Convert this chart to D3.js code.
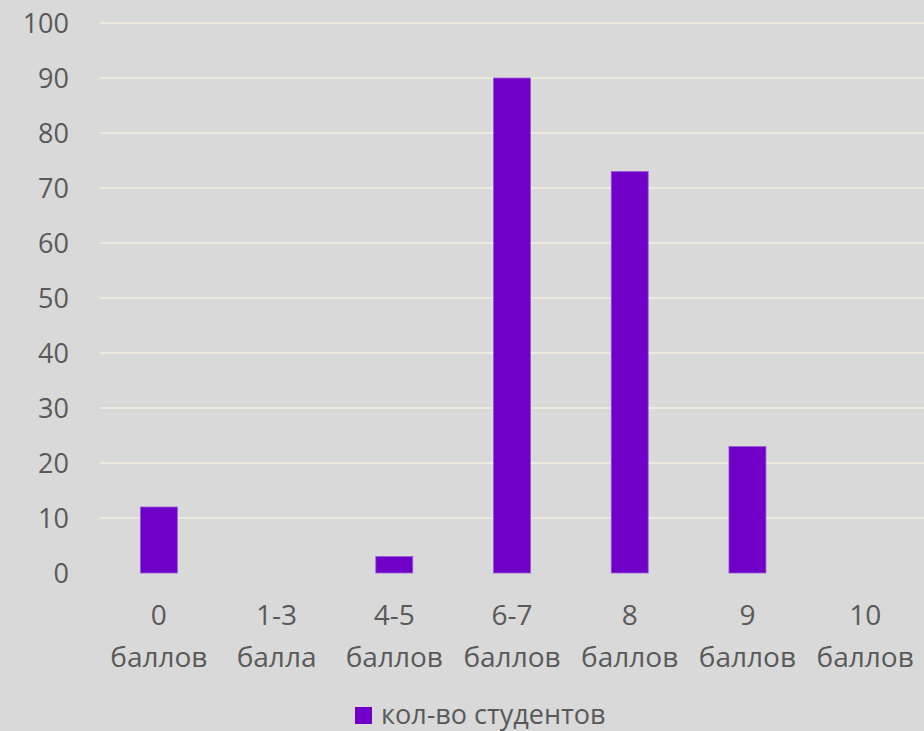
<!DOCTYPE html>
<html><head><meta charset="utf-8">
<script src="https://cdn.jsdelivr.net/npm/d3@7"></script>
<style>html,body{margin:0;padding:0;background:#d9d9d9;}</style>
</head><body>
<script>
const categories = [["0","баллов"],["1-3","балла"],["4-5","баллов"],["6-7","баллов"],["8","баллов"],["9","баллов"],["10","баллов"]];
const values = [12, 0, 3, 90, 73, 23, 0];
const yTicks = [0,10,20,30,40,50,60,70,80,90,100];
const seriesName = "кол-во студентов";

const W = 924, H = 731;
const font = "'Open Sans', sans-serif";
const textColor = "#595959";
const barColor = "#7000c8";

const svg = d3.select("body").append("svg").attr("width", W).attr("height", H)
  .style("background", "#d9d9d9");

const x = d3.scaleBand().domain(categories.map((d,i)=>i)).range([100, 924]).paddingInner(0.686).paddingOuter(0.343);
const y = d3.scaleLinear().domain([0, 100]).range([573, 23]);

// gridlines
svg.append("g").selectAll("line").data(yTicks.filter(d=>d>0)).join("line")
  .attr("x1", 100).attr("x2", 924)
  .attr("y1", d=>y(d)).attr("y2", d=>y(d))
  .attr("stroke", "#ede9dc").attr("stroke-width", 2);

// y axis labels
const yAxis = d3.axisLeft(y).tickValues(yTicks).tickSize(0).tickPadding(0);
const gy = svg.append("g").attr("transform", "translate(69,0)").call(yAxis);
gy.select(".domain").remove();
gy.selectAll("text").attr("font-family", font).attr("font-size", 27).attr("fill", textColor).attr("dy", "0.36em");

// bars
svg.append("g").selectAll("rect").data(values).join("rect")
  .attr("x", (d,i)=>x(i)).attr("width", x.bandwidth())
  .attr("y", d=>y(d)).attr("height", d=>y(0)-y(d))
  .attr("fill", barColor).attr("stroke", "#9a5ad6").attr("stroke-width", d=>d>0?0.8:0);

// x labels
const gx = svg.append("g");
categories.forEach((c,i)=>{
  const cx = x(i) + x.bandwidth()/2;
  const t = gx.append("text").attr("x", cx).attr("text-anchor","middle")
    .attr("font-family", font).attr("font-size", 28).attr("fill", textColor);
  t.append("tspan").attr("x", cx).attr("y", 625).text(c[0]);
  t.append("tspan").attr("x", cx).attr("y", 667).text(c[1]);
});

// legend
const lg = svg.append("g");
lg.append("rect").attr("x", 355).attr("y", 707).attr("width", 17).attr("height", 17).attr("fill", barColor);
lg.append("text").attr("x", 381).attr("y", 724).attr("font-family", font).attr("font-size", 27)
  .attr("fill", textColor).text(seriesName);
</script>
</body></html>
